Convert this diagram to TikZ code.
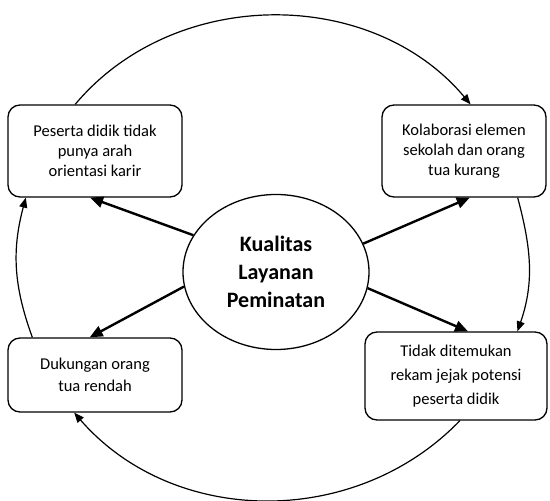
\documentclass[tikz,border=0pt]{standalone}
\usepackage{fontspec}
\setmainfont{Carlito}
\usetikzlibrary{arrows.meta,shapes.geometric}

\begin{document}
\begin{tikzpicture}[x=1pt, y=1pt,
    box/.style={draw, line width=1.3pt, rounded corners=12pt, align=center, inner sep=2pt,
      font=\fontsize{16.5}{20}\selectfont},
    core/.style={draw, ellipse, line width=1.3pt, inner sep=0pt, align=center,
      minimum width=186pt, minimum height=155pt, font=\fontsize{22}{28}\selectfont\bfseries},
    spoke/.style={line width=2.4pt, -{Triangle[length=13pt,width=11pt]}},
    cycleline/.style={line width=1.2pt, -{Triangle[length=10pt,width=8pt]}}]
  \useasboundingbox (0,0) rectangle (550,501);

  \node [core] (K) at (276,229) {Kualitas\\Layanan\\Peminatan};
  \node [box, minimum width=174pt, minimum height=92pt] (A) at (95,350)
    {Peserta didik tidak\\punya arah\\orientasi karir};
  \node [box, minimum width=164pt, minimum height=92pt] (B) at (464,350)
    {Kolaborasi elemen\\sekolah dan orang\\tua kurang};
  \node [box, minimum width=174pt, minimum height=74pt, font=\fontsize{16.5}{22}\selectfont] (C) at (95,126)
    {Dukungan orang\\tua rendah};
  \node [box, minimum width=182pt, minimum height=88pt, font=\fontsize{16.5}{24}\selectfont] (D) at (456,125)
    {Tidak ditemukan\\rekam jejak potensi\\peserta didik};

  \draw [spoke] (K.156) -- (A.264);
  \draw [spoke] (K.18) -- (B.277);
  \draw [spoke] (K.189) -- (C.98);
  \draw [spoke] (K.350) -- (D.75);

  \draw [cycleline] (A.113.5) to[out=50, in=130] (B.82.6);
  \draw [cycleline] (B.319.6) to[out=-75, in=71] (D.36.7);
  \draw [cycleline] (D.275) to[out=-134, in=-49] (C.241.6);
  \draw [cycleline] (C.149.6) to[out=110, in=-105] (A.214);
\end{tikzpicture}
\end{document}
